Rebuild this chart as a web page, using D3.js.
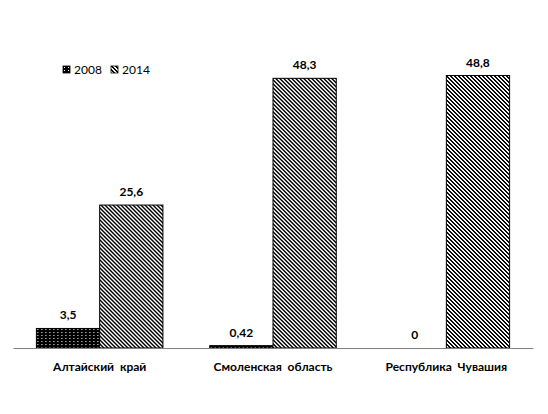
<!DOCTYPE html>
<html>
<head>
<meta charset="utf-8">
<script src="https://cdn.jsdelivr.net/npm/d3@7"></script>
<style>
  body { margin: 0; background: #fff; }
  text { font-family: "Lato", "Open Sans", sans-serif; font-weight: bold; fill: #000; }
</style>
</head>
<body>
<div id="chart"></div>
<script>
// Data
const regions = ["Алтайский  край", "Смоленская  область", "Республика  Чувашия"];
const years = ["2008", "2014"];
const values2008 = [3.5, 0.42, 0];
const values2014 = [25.6, 48.3, 48.8];
const labels2008 = ["3,5", "0,42", "0"];
const labels2014 = ["25,6", "48,3", "48,8"];

const W = 548, H = 414;
const margin = { top: 13, right: 15, bottom: 66, left: 13 };
const width = W - margin.left - margin.right,
    height = H - margin.top - margin.bottom;

const svg = d3.select("#chart")
    .append("svg")
    .attr("width", W)
    .attr("height", H);

// Patterns
const defs = svg.append("defs");
const dots = defs.append("pattern")
    .attr("id", "dots")
    .attr("patternUnits", "userSpaceOnUse")
    .attr("width", 4).attr("height", 3);
dots.append("rect").attr("width", 4).attr("height", 3).attr("fill", "#000");
dots.append("rect").attr("x", 1).attr("y", 1).attr("width", 1).attr("height", 1).attr("fill", "#fff");

// dark downward diagonal, pixel tile 4x4
const stripes = defs.append("pattern")
    .attr("id", "stripes")
    .attr("patternUnits", "userSpaceOnUse")
    .attr("width", 4).attr("height", 4);
stripes.append("rect").attr("width", 4).attr("height", 4).attr("fill", "#fff");
d3.range(4).forEach(r => {
    [r, (r + 1) % 4].forEach(c => {
        stripes.append("rect")
            .attr("x", c).attr("y", r)
            .attr("width", 1).attr("height", 1)
            .attr("fill", "#000")
            .attr("shape-rendering", "crispEdges");
    });
});

const fills = { "2008": "url(#dots)", "2014": "url(#stripes)" };

const g = svg.append("g")
    .attr("transform", `translate(${margin.left},${margin.top})`);

// Scales
const x0 = d3.scaleBand()
    .domain(regions)
    .range([0, width])
    .paddingInner(0.27)
    .paddingOuter(0.135);

const x1 = d3.scaleBand()
    .domain(years)
    .range([0, x0.bandwidth()]);

const y = d3.scaleLinear()
    .domain([0, 60])
    .range([height, 0]);

const rows = regions.map((r, i) => ({
    region: r,
    bars: [
        { year: "2008", value: values2008[i], label: labels2008[i] },
        { year: "2014", value: values2014[i], label: labels2014[i] }
    ]
}));

const groups = g.selectAll(".group")
    .data(rows)
    .enter()
    .append("g")
    .attr("transform", d => `translate(${x0(d.region)},0)`);

groups.selectAll("rect")
    .data(d => d.bars.filter(b => b.value > 0))
    .enter()
    .append("rect")
    .attr("x", d => x1(d.year))
    .attr("y", d => y(d.value))
    .attr("width", x1.bandwidth())
    .attr("height", d => height - y(d.value))
    .attr("fill", d => fills[d.year])
    .attr("stroke", "#000")
    .attr("stroke-width", 1);

groups.selectAll(".val")
    .data(d => d.bars)
    .enter()
    .append("text")
    .attr("class", "val")
    .attr("x", d => x1(d.year) + x1.bandwidth() / 2)
    .attr("y", d => y(d.value) - 9)
    .attr("text-anchor", "middle")
    .style("font-size", "12px")
    .text(d => d.label);

// X axis
const xAxis = g.append("g")
    .attr("transform", `translate(0,${height})`)
    .call(d3.axisBottom(x0).tickSize(0).tickPadding(14));
xAxis.select(".domain").attr("stroke", "#808080").attr("stroke-width", 1.2);
xAxis.selectAll("text")
    .style("font-size", "12px")
    .style("font-family", "Lato, sans-serif")
    .style("font-weight", "bold")
    .style("white-space", "pre")
    .attr("xml:space", "preserve");

// Legend
const legend = svg.append("g")
    .attr("transform", "translate(63,66)");
const item = legend.selectAll("g")
    .data(years)
    .enter()
    .append("g")
    .attr("transform", (d, i) => `translate(${i * 48},0)`);
item.append("rect")
    .attr("width", 7).attr("height", 7)
    .attr("fill", d => fills[d])
    .attr("stroke", "#000")
    .attr("stroke-width", 0.8);
item.append("text")
    .attr("x", 11)
    .attr("y", 7.5)
    .style("font-size", "12px")
    .style("font-weight", "normal")
    .text(d => d);
</script>
</body>
</html>
